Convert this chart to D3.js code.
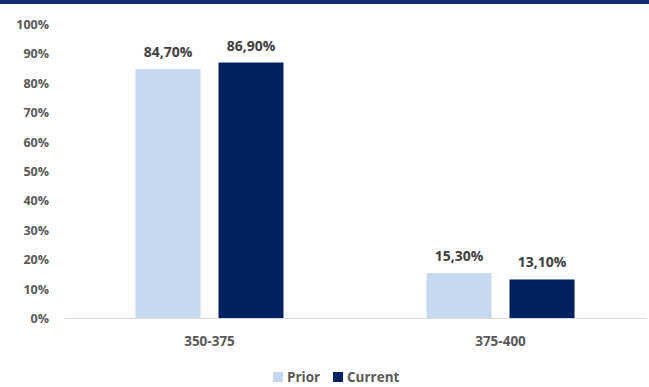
<!DOCTYPE html>
<html>
<head>
<meta charset="utf-8">
<script src="https://cdn.jsdelivr.net/npm/d3@7"></script>
<style>
  html, body { margin: 0; padding: 0; background: #ffffff; }
  svg { display: block; }
  text { font-family: "Open Sans", "Noto Sans", sans-serif; font-weight: 700; }
</style>
</head>
<body>
<svg id="chart" width="649" height="387"></svg>
<script>
const categories = ["350-375", "375-400"];
const seriesNames = ["Prior", "Current"];
const priorValues = [84.7, 15.3];
const currentValues = [86.9, 13.1];
const yTicks = [0, 10, 20, 30, 40, 50, 60, 70, 80, 90, 100];

const colors = { Prior: "#c6d9f0", Current: "#002060" };
const seriesValues = { Prior: priorValues, Current: currentValues };

const svg = d3.select("#chart");
const W = 649, H = 387;

// top band
svg.append("rect").attr("x", 0).attr("y", 0).attr("width", W).attr("height", 4).attr("fill", "#142b72");

const plot = { left: 64, right: 646, top: 24, bottom: 318 };

const x = d3.scaleBand().domain(categories).range([plot.left, plot.right]).paddingInner(0).paddingOuter(0);
const groupWidth = 148;
const xs = d3.scaleBand().domain(seriesNames).range([0, groupWidth]).paddingInner(0.217).paddingOuter(0);
const y = d3.scaleLinear().domain([0, 100]).range([plot.bottom, plot.top]);

// y axis labels
const yAxis = d3.axisLeft(y).tickValues(yTicks).tickFormat(d => d + "%").tickSize(0).tickPadding(0);
const gy = svg.append("g").attr("transform", `translate(${plot.left - 15},0)`).call(yAxis);
gy.select(".domain").remove();
gy.selectAll("text").attr("fill", "#595959").attr("font-size", 12.5).attr("font-family", "Open Sans, sans-serif").attr("font-weight", 700).attr("dy", "0.36em");

// bars
const data = [];
categories.forEach((c, i) => seriesNames.forEach(s => data.push({ c, s, v: seriesValues[s][i] })));

const barX = d => x(d.c) + (x.bandwidth() - groupWidth) / 2 + xs(d.s);

svg.append("g").selectAll("rect").data(data).join("rect")
  .attr("x", barX)
  .attr("y", d => y(d.v))
  .attr("width", xs.bandwidth())
  .attr("height", d => y(0) - y(d.v))
  .attr("fill", d => colors[d.s]);

// value labels
svg.append("g").selectAll("text").data(data).join("text")
  .attr("x", d => barX(d) + xs.bandwidth() / 2)
  .attr("y", d => y(d.v) - 12)
  .attr("text-anchor", "middle")
  .attr("fill", "#404040")
  .attr("font-size", 14)
  .text(d => d.v.toFixed(2).replace(".", ",") + "%");

// x axis
const xAxis = d3.axisBottom(x).tickSize(0).tickPadding(0);
const gx = svg.append("g").attr("transform", `translate(0,${plot.bottom})`).call(xAxis);
gx.select(".domain").attr("stroke", "#d9d9d9").attr("stroke-width", 1.2);
gx.selectAll("text").attr("fill", "#595959").attr("font-size", 13.5).attr("font-family", "Open Sans, sans-serif").attr("font-weight", 700).attr("dy", "0").attr("y", 28);

// legend
const legendItems = [
  { name: "Prior", sx: 273, tx: 287 },
  { name: "Current", sx: 333, tx: 347 }
];
const lg = svg.append("g");
legendItems.forEach(it => {
  lg.append("rect").attr("x", it.sx).attr("y", 372).attr("width", 10).attr("height", 10).attr("fill", colors[it.name]);
  lg.append("text").attr("x", it.tx).attr("y", 382).attr("fill", "#595959").attr("font-size", 13.5).text(it.name);
});
</script>
</body>
</html>
